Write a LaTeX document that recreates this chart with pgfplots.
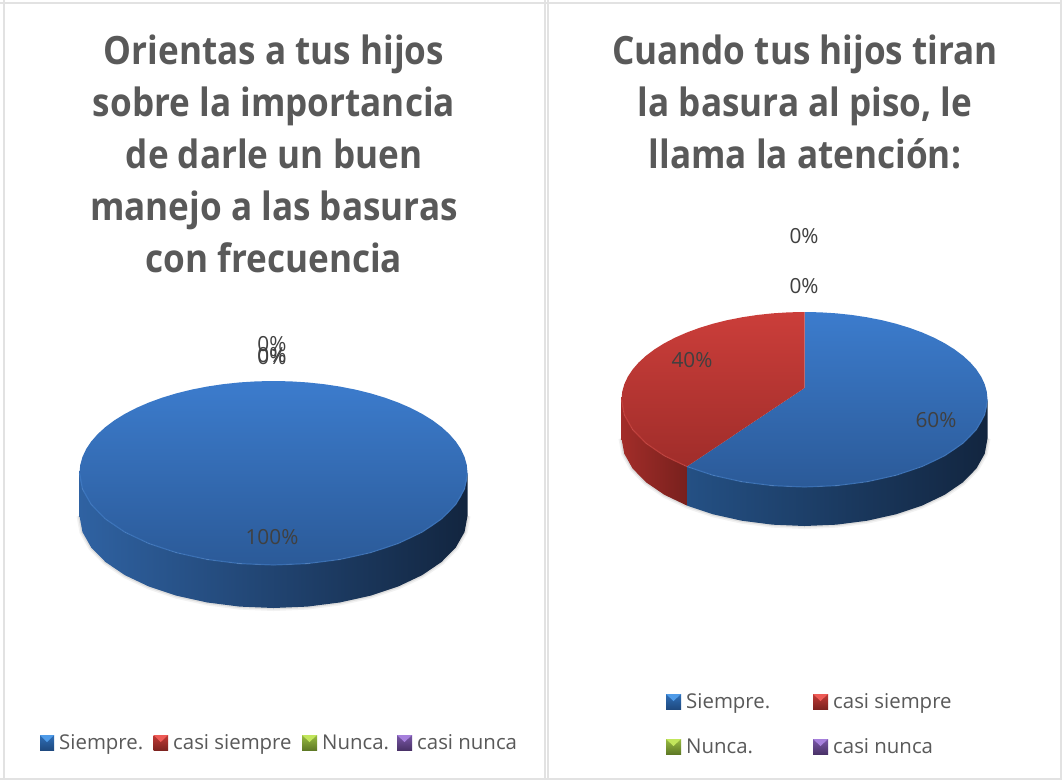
\documentclass[border=0pt]{standalone}
\usepackage{fontspec}
\setmainfont{Open Sans}
\newfontfamily\titlefont[FakeStretch=0.9]{Open Sans}
\usepackage{pgfplots}
\usepackage{pgfplotstable}
\pgfplotsset{compat=1.18}
\definecolor{ttl}{HTML}{595959}
\definecolor{lab}{HTML}{404040}
\definecolor{leg}{HTML}{595959}
\definecolor{frameg}{HTML}{E2E2E2}
\definecolor{wallA}{HTML}{2F62A2}\definecolor{wallB}{HTML}{1B3A64}\definecolor{wallC}{HTML}{12253F}
\definecolor{wallD}{HTML}{245084}\definecolor{wallE}{HTML}{18345A}
\definecolor{redA}{HTML}{A22D29}\definecolor{redB}{HTML}{78201D}
\definecolor{topA}{HTML}{3C7CCD}\definecolor{topB}{HTML}{2B5A98}
\definecolor{topC}{HTML}{CB3E3A}\definecolor{topD}{HTML}{A02D2A}
\definecolor{rimB}{HTML}{4A87D2}\definecolor{rimR}{HTML}{D9504B}
\definecolor{sbA}{HTML}{2F6FB8}\definecolor{sbB}{HTML}{1F4A80}\definecolor{sbC}{HTML}{4F9BE8}
\definecolor{srA}{HTML}{C23A36}\definecolor{srB}{HTML}{7E2320}\definecolor{srC}{HTML}{EE5B56}
\definecolor{sgA}{HTML}{98BC42}\definecolor{sgB}{HTML}{5F7A26}\definecolor{sgC}{HTML}{C2E65C}
\definecolor{spA}{HTML}{7A58A8}\definecolor{spB}{HTML}{4A3268}\definecolor{spC}{HTML}{A680DC}
% a = angle on the rim, r = 1 on the rim / 0 at the pie centre, d = 1 on the lower edge of the wall
\pgfplotstableread[row sep=\\]{a r d\\0 1 0\\5 1 0\\10 1 0\\15 1 0\\20 1 0\\25 1 0\\30 1 0\\35 1 0\\40 1 0\\45 1 0\\50 1 0\\55 1 0\\60 1 0\\65 1 0\\70 1 0\\75 1 0\\80 1 0\\85 1 0\\90 1 0\\95 1 0\\100 1 0\\105 1 0\\110 1 0\\115 1 0\\120 1 0\\125 1 0\\130 1 0\\135 1 0\\140 1 0\\145 1 0\\150 1 0\\155 1 0\\160 1 0\\165 1 0\\170 1 0\\175 1 0\\180 1 0\\185 1 0\\190 1 0\\195 1 0\\200 1 0\\205 1 0\\210 1 0\\215 1 0\\220 1 0\\225 1 0\\230 1 0\\235 1 0\\240 1 0\\245 1 0\\250 1 0\\255 1 0\\260 1 0\\265 1 0\\270 1 0\\275 1 0\\280 1 0\\285 1 0\\290 1 0\\295 1 0\\300 1 0\\305 1 0\\310 1 0\\315 1 0\\320 1 0\\325 1 0\\330 1 0\\335 1 0\\340 1 0\\345 1 0\\350 1 0\\355 1 0\\360 1 0\\}\topfull
\pgfplotstableread[row sep=\\]{a r d\\180 1 0\\190 1 0\\200 1 0\\210 1 0\\220 1 0\\230 1 0\\240 1 0\\250 1 0\\260 1 0\\270 1 0\\280 1 0\\290 1 0\\300 1 0\\310 1 0\\320 1 0\\330 1 0\\340 1 0\\350 1 0\\360 1 0\\360 1 1\\350 1 1\\340 1 1\\330 1 1\\320 1 1\\310 1 1\\300 1 1\\290 1 1\\280 1 1\\270 1 1\\260 1 1\\250 1 1\\240 1 1\\230 1 1\\220 1 1\\210 1 1\\200 1 1\\190 1 1\\180 1 1\\}\wallfull
\pgfplotstableread[row sep=\\]{a r d\\180 1 1\\190 1 1\\200 1 1\\210 1 1\\220 1 1\\230 1 1\\240 1 1\\250 1 1\\260 1 1\\270 1 1\\280 1 1\\290 1 1\\300 1 1\\310 1 1\\320 1 1\\330 1 1\\340 1 1\\350 1 1\\360 1 1\\}\wallbottom
\pgfplotstableread[row sep=\\]{a r d\\180 1 0\\190 1 0\\200 1 0\\210 1 0\\220 1 0\\230 1 0\\240 1 0\\250 1 0\\260 1 0\\270 1 0\\280 1 0\\290 1 0\\300 1 0\\310 1 0\\320 1 0\\330 1 0\\340 1 0\\350 1 0\\360 1 0\\}\rimfull
% 60 % slice
\pgfplotstableread[row sep=\\]{a r d\\0 0 0\\90 1 0\\85 1 0\\80 1 0\\75 1 0\\70 1 0\\65 1 0\\60 1 0\\55 1 0\\50 1 0\\45 1 0\\40 1 0\\35 1 0\\30 1 0\\25 1 0\\20 1 0\\15 1 0\\10 1 0\\5 1 0\\0 1 0\\-5 1 0\\-10 1 0\\-15 1 0\\-20 1 0\\-25 1 0\\-30 1 0\\-35 1 0\\-40 1 0\\-45 1 0\\-50 1 0\\-55 1 0\\-60 1 0\\-65 1 0\\-70 1 0\\-75 1 0\\-80 1 0\\-85 1 0\\-90 1 0\\-95 1 0\\-100 1 0\\-105 1 0\\-110 1 0\\-115 1 0\\-120 1 0\\-125 1 0\\-130 1 0\\0 0 0\\}\topblue
% 40 % slice
\pgfplotstableread[row sep=\\]{a r d\\0 0 0\\90 1 0\\95 1 0\\100 1 0\\105 1 0\\110 1 0\\115 1 0\\120 1 0\\125 1 0\\130 1 0\\135 1 0\\140 1 0\\145 1 0\\150 1 0\\155 1 0\\160 1 0\\165 1 0\\170 1 0\\175 1 0\\180 1 0\\185 1 0\\190 1 0\\195 1 0\\200 1 0\\205 1 0\\210 1 0\\215 1 0\\220 1 0\\225 1 0\\230 1 0\\0 0 0\\}\topred
\pgfplotstableread[row sep=\\]{a r d\\230 1 0\\240 1 0\\250 1 0\\260 1 0\\270 1 0\\280 1 0\\290 1 0\\300 1 0\\310 1 0\\320 1 0\\330 1 0\\340 1 0\\350 1 0\\360 1 0\\360 1 1\\350 1 1\\340 1 1\\330 1 1\\320 1 1\\310 1 1\\300 1 1\\290 1 1\\280 1 1\\270 1 1\\260 1 1\\250 1 1\\240 1 1\\230 1 1\\}\wallblue
\pgfplotstableread[row sep=\\]{a r d\\180 1 0\\190 1 0\\200 1 0\\210 1 0\\220 1 0\\230 1 0\\230 1 1\\220 1 1\\210 1 1\\200 1 1\\190 1 1\\180 1 1\\}\wallred
\pgfplotstableread[row sep=\\]{a r d\\230 1 0\\240 1 0\\250 1 0\\260 1 0\\270 1 0\\280 1 0\\290 1 0\\300 1 0\\310 1 0\\320 1 0\\330 1 0\\340 1 0\\350 1 0\\360 1 0\\}\rimblue
\pgfplotstableread[row sep=\\]{a r d\\180 1 0\\190 1 0\\200 1 0\\210 1 0\\220 1 0\\230 1 0\\}\rimred
\def\px{\cx+\thisrow{r}*\rx*cos(\thisrow{a})}
\def\py{\cy-\thisrow{r}*\ry*sin(\thisrow{a})+\thisrow{d}*\dep-(1-\thisrow{r})*\voff}
\pgfplotsset{table/pie/.style={x expr=\px, y expr=\py}}
\newcommand{\ttlnode}[3]{\node[anchor=base, text=ttl, font=\titlefont\fontsize{39}{39}\selectfont\bfseries, inner sep=0pt] at (axis cs:#1,#2) {#3};}
\newcommand{\datlab}[3]{\node[anchor=center, text=lab, font=\fontsize{20.8}{21}\selectfont, inner sep=0pt] at (axis cs:#1,#2) {#3};}
\newcommand{\legtxt}[3]{\node[anchor=base west, text=leg, font=\fontsize{20.4}{21}\selectfont, inner sep=0pt] at (axis cs:#1,#2) {#3};}
\begin{document}
\begin{tikzpicture}
\begin{axis}[
  scale only axis, width=1062pt, height=780pt,
  xmin=0, xmax=1062, ymin=0, ymax=780, y dir=reverse,
  axis lines=none, clip=true,
]
% page and panel frames
\addplot[draw=none, fill=white] coordinates {(0,0) (1062,0) (1062,780) (0,780) (0,0)};
\addplot[frameg, line width=2.2pt] coordinates {(0,3) (1062,3)};
\addplot[frameg, line width=2pt] coordinates {(3.5,0) (3.5,780)};
\addplot[frameg, line width=2pt] coordinates {(544.5,0) (544.5,780)};
\addplot[frameg, line width=2pt] coordinates {(548,0) (548,780)};
\addplot[frameg, line width=1.6pt] coordinates {(1061.2,0) (1061.2,780)};
\addplot[frameg, line width=1.6pt] coordinates {(0,778.8) (1062,778.8)};

% ---- left pie
\def\cx{273.5}\def\cy{473}\def\rx{194}\def\ry{92}\def\dep{43}\def\voff{0}
\addplot[gray, opacity=.10, line width=6pt] table[pie] {\wallbottom};
\addplot[gray, opacity=.18, line width=3pt] table[pie] {\wallbottom};
\addplot[draw=none, left color=wallA, middle color=wallB, right color=wallC] table[pie] {\wallfull};
\addplot[draw=none, top color=topA, bottom color=topB] table[pie] {\topfull};
\addplot[color=rimB, opacity=.45, line width=1.2pt] table[pie] {\rimfull};

% ---- right pie
\def\cx{804.5}\def\cy{399.5}\def\rx{183}\def\ry{87.5}\def\dep{39}\def\voff{11.5}
\addplot[gray, opacity=.10, line width=6pt] table[pie] {\wallbottom};
\addplot[gray, opacity=.18, line width=3pt] table[pie] {\wallbottom};
\addplot[draw=none, left color=wallD, middle color=wallE, right color=wallC] table[pie] {\wallblue};
\addplot[draw=none, left color=redA, right color=redB] table[pie] {\wallred};
\addplot[draw=none, top color=topA, bottom color=topB] table[pie] {\topblue};
\addplot[draw=none, top color=topC, bottom color=topD] table[pie] {\topred};
\addplot[color=rimB, opacity=.45, line width=1.2pt] table[pie] {\rimblue};
\addplot[color=rimR, opacity=.45, line width=1.2pt] table[pie] {\rimred};

% ---- legend swatches (left panel, then right panel)
\addplot[draw=none, top color=sbA, bottom color=sbB] coordinates {(40,735) (54,735) (54,750) (40,750) (40,735)};
\addplot[draw=none, fill=sbC] coordinates {(40,735) (54,735) (47,742) (40,735)};
\addplot[draw=none, top color=srA, bottom color=srB] coordinates {(153.5,735) (168,735) (168,750) (153.5,750) (153.5,735)};
\addplot[draw=none, fill=srC] coordinates {(153.5,735) (168,735) (160.7,742) (153.5,735)};
\addplot[draw=none, top color=sgA, bottom color=sgB] coordinates {(302,735) (317,735) (317,750) (302,750) (302,735)};
\addplot[draw=none, fill=sgC] coordinates {(302,735) (317,735) (309.5,742) (302,735)};
\addplot[draw=none, top color=spA, bottom color=spB] coordinates {(397,735) (412,735) (412,750) (397,750) (397,735)};
\addplot[draw=none, fill=spC] coordinates {(397,735) (412,735) (404.5,742) (397,735)};

\addplot[draw=none, top color=sbA, bottom color=sbB] coordinates {(666,694) (681,694) (681,709) (666,709) (666,694)};
\addplot[draw=none, fill=sbC] coordinates {(666,694) (681,694) (673.5,701) (666,694)};
\addplot[draw=none, top color=srA, bottom color=srB] coordinates {(813,694) (828,694) (828,709) (813,709) (813,694)};
\addplot[draw=none, fill=srC] coordinates {(813,694) (828,694) (820.5,701) (813,694)};
\addplot[draw=none, top color=sgA, bottom color=sgB] coordinates {(666,739) (681,739) (681,754) (666,754) (666,739)};
\addplot[draw=none, fill=sgC] coordinates {(666,739) (681,739) (673.5,746) (666,739)};
\addplot[draw=none, top color=spA, bottom color=spB] coordinates {(813,739) (828,739) (828,754) (813,754) (813,739)};
\addplot[draw=none, fill=spC] coordinates {(813,739) (828,739) (820.5,746) (813,739)};

% ---- titles
\ttlnode{274}{64.5}{Orientas a tus hijos}
\ttlnode{274}{116.5}{sobre la importancia}
\ttlnode{274}{168}{de darle un buen}
\ttlnode{274}{220}{manejo a las basuras}
\ttlnode{274}{272}{con frecuencia}
\ttlnode{805}{64.5}{Cuando tus hijos tiran}
\ttlnode{805}{116.5}{la basura al piso, le}
\ttlnode{805}{168.5}{llama la atención:}

% ---- data labels
\datlab{272}{344}{0\%}
\datlab{272}{355}{0\%}
\datlab{272}{357}{0\%}
\datlab{272}{537}{100\%}
\datlab{804}{236}{0\%}
\datlab{804}{286}{0\%}
\datlab{692}{360}{40\%}
\datlab{936}{420}{60\%}

% ---- legend text
\legtxt{59}{749}{Siempre.}
\legtxt{173}{749}{casi siempre}
\legtxt{322}{749}{Nunca.}
\legtxt{417}{749}{casi nunca}
\legtxt{686}{708}{Siempre.}
\legtxt{833}{708}{casi siempre}
\legtxt{686}{753}{Nunca.}
\legtxt{833}{753}{casi nunca}
\end{axis}
\end{tikzpicture}
\end{document}
